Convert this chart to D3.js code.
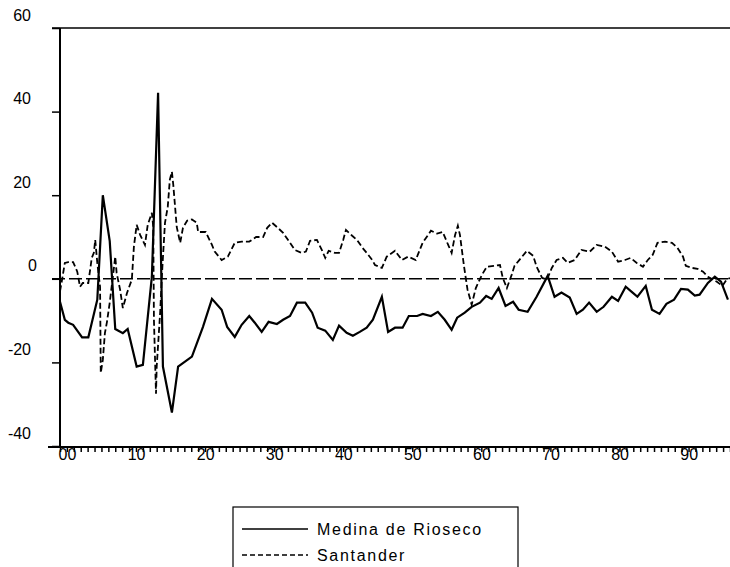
<!DOCTYPE html>
<html>
<head>
<meta charset="utf-8">
<script src="https://cdn.jsdelivr.net/npm/d3@7"></script>
<style>
  body { margin: 0; background: #fff; }
  svg { display: block; font-family: "Liberation Sans", Arial, sans-serif; }
</style>
</head>
<body>
<svg id="chart" width="730" height="567"></svg>
<script>
// years counted from 1700 (00 .. 96), values in %
var medina = [
  [0, -5.5], [0.7, -9.8], [1.2, -10.5], [1.9, -11], [3.2, -14], [4.1, -14], [5.4, -5], [6.2, 20],
  [7.2, 9], [8.0, -12], [9.1, -13], [9.8, -12], [11.1, -21], [12.0, -20.6], [13.3, 0.5], [14.2, 44.5],
  [14.9, -21], [16.2, -32], [17.1, -21], [19.1, -18.6], [20.7, -11.5], [22.0, -4.8], [23.4, -7.4],
  [24.2, -11.5], [25.3, -13.9], [26.3, -11], [27.4, -8.9], [28.2, -10.5], [29.2, -12.7], [30.2, -10.3],
  [31.4, -10.8], [32.3, -9.8], [33.3, -8.9], [34.3, -5.7], [35.5, -5.7], [36.5, -8.1], [37.3, -11.7],
  [38.4, -12.4], [39.5, -14.6], [40.4, -11.2], [41.5, -12.9], [42.4, -13.6], [43.4, -12.7], [44.4, -11.7],
  [45.3, -9.8], [46.6, -4.3], [47.5, -12.7], [48.5, -11.7], [49.6, -11.7], [50.5, -8.9], [51.7, -8.9],
  [52.5, -8.4], [53.7, -8.9], [54.7, -7.9], [55.7, -9.8], [56.7, -12.2], [57.5, -9.3], [58.6, -8.1],
  [59.6, -6.7], [60.8, -5.7], [61.7, -4.1], [62.5, -4.8], [63.5, -2.2], [64.5, -6.5], [65.6, -5.5],
  [66.4, -7.4], [67.7, -7.9], [69.0, -4.3], [70.6, 0.7], [71.6, -4.3], [72.6, -3.3], [73.8, -4.5],
  [74.8, -8.4], [75.7, -7.4], [76.6, -5.7], [77.7, -7.9], [78.7, -6.7], [79.9, -4.3], [80.8, -5.3],
  [81.9, -1.9], [82.9, -3.3], [83.6, -4.3], [84.8, -1.7], [85.7, -7.4], [86.8, -8.4], [87.8, -6],
  [88.9, -5], [89.9, -2.4], [90.9, -2.6], [91.9, -4], [92.6, -3.8], [93.8, -1], [94.8, 0.5],
  [95.7, -0.7], [96.7, -5]
];

var santander = [
  [0, -3], [0.3, -0.2], [0.7, 3.8], [1.2, 4], [1.9, 4], [2.5, 1.7], [2.9, -1.9], [3.3, -1], [4.1, -1],
  [4.6, 5], [4.9, 6.2], [5.1, 9.3], [5.4, 3.8], [5.8, -1.9], [5.9, -22.5], [6.2, -19.4], [6.5, -13],
  [6.8, -10.3], [7.2, -5.7], [8.0, 5.3], [8.2, 1.4], [8.7, -2.6], [9.1, -7], [9.7, -3.4], [10.4, -0.2],
  [10.7, 7.7], [11.1, 12.9], [11.6, 10.5], [12.3, 8.1], [12.7, 12.9], [13.3, 15.8], [13.5, 12.4],
  [13.6, -9.8], [13.9, -27.5], [14.0, -21], [14.5, -8.1], [14.8, 2.2], [15.2, 13.4], [15.6, 17.2],
  [15.9, 23.7], [16.2, 25.6], [16.4, 22.5], [16.9, 12.4], [17.4, 8.6], [17.8, 12.2], [18.4, 13.9],
  [19.1, 14.2], [19.8, 13.4], [20.0, 11.2], [21.1, 11.2], [22.0, 8.1], [22.4, 6.5], [23.4, 4.5],
  [24.3, 5.3], [25.3, 8.6], [26.3, 8.9], [27.4, 8.9], [28.4, 10], [29.4, 10], [30.0, 12.2], [30.7, 13.4],
  [31.4, 12.4], [32.3, 11], [33.3, 8.6], [34.0, 6.9], [35.0, 6.2], [35.6, 6.5], [36.2, 9.1], [37.2, 9.3],
  [37.9, 6.9], [38.4, 5], [38.9, 6.7], [39.8, 6.2], [40.4, 6.2], [41.0, 9.3], [41.4, 11.7], [42.3, 10.3],
  [43.0, 9.3], [43.8, 7.4], [44.4, 6.2], [45.2, 4.5], [45.6, 3.3], [46.6, 2.6], [47.3, 5.3], [48.5, 6.7],
  [49.5, 4.5], [50.4, 5.3], [51.5, 4.5], [52.5, 8.6], [53.7, 11.5], [54.6, 10.8], [55.4, 11.2],
  [56.2, 8.1], [56.7, 6.2], [57.2, 10.5], [57.6, 12.7], [57.9, 10.5], [58.5, 2.9], [59.0, -2.6],
  [59.6, -6.2], [60.2, -2.2], [61.1, 1], [61.8, 2.9], [62.8, 3.1], [63.7, 3.3], [64.1, 0.2], [64.7, -2.2],
  [65.4, 1], [65.8, 3.1], [66.9, 5.3], [67.6, 6.7], [68.5, 5.5], [69.0, 2.9], [69.8, 0.2], [70.5, -0.2],
  [71.2, 2.6], [71.9, 4.5], [72.8, 5], [73.5, 3.8], [74.5, 4.5], [75.5, 6.9], [76.7, 6.5], [77.7, 8.1],
  [78.9, 7.7], [79.9, 6.5], [80.8, 4.1], [81.8, 4.5], [82.6, 5], [83.5, 3.8], [84.4, 2.9], [85.1, 4.5],
  [85.8, 5.7], [86.5, 8.6], [87.6, 8.9], [88.6, 8.6], [89.4, 7.4], [90.2, 5.3], [90.6, 3.1], [91.5, 2.6],
  [92.3, 2.4], [93.1, 1.7], [93.8, 0.5], [95.1, -0.7], [95.9, -1.7], [96.5, -0.2], [97.0, 0.2]
];

var yTicks = [60, 40, 20, 0, -20, -40];
var xLabels = ["00", "10", "20", "30", "40", "50", "60", "70", "80", "90"];
var seriesNames = ["Medina de Rioseco", "Santander"];

var chart = d3.select("#chart");

var x = d3.scaleLinear().domain([0, 97]).range([60, 730]);
var y = d3.scaleLinear().domain([-40, 60]).range([446, 28]);

// frame top line
chart.append("line")
    .attr("x1", 52).attr("x2", 730)
    .attr("y1", y(60)).attr("y2", y(60))
    .attr("stroke", "#000").attr("stroke-width", 1.5);

// zero reference line, long dashes
chart.append("line")
    .attr("x1", 52).attr("x2", 730)
    .attr("y1", y(0)).attr("y2", y(0))
    .attr("stroke", "#000").attr("stroke-width", 1.6)
    .attr("stroke-dasharray", "13,4");

// y axis
var yAxis = chart.append("g")
    .attr("transform", "translate(60,0)")
    .call(d3.axisLeft(y).tickValues(yTicks).tickSize(8).tickFormat(function(d) { return d; }));
yAxis.select(".domain").remove();
yAxis.append("line")
    .attr("x1", 0).attr("x2", 0)
    .attr("y1", 28).attr("y2", 447)
    .attr("stroke", "#000").attr("stroke-width", 2);
yAxis.selectAll(".tick line").attr("stroke-width", 1.5);
yAxis.selectAll(".tick text")
    .attr("x", function(d) { return d === 0 ? -23 : -29; })
    .attr("dy", "-8px")
    .attr("font-size", "16px").attr("fill", "#000")
    .attr("font-family", "Liberation Sans, Arial, sans-serif");

// x axis: yearly ticks, decade labels
var xAxis = chart.append("g")
    .attr("transform", "translate(0,447)")
    .call(d3.axisBottom(x).tickValues(d3.range(0, 98)).tickSize(5)
        .tickFormat(function(d) { return d % 10 === 0 ? xLabels[d / 10] : ""; }));
xAxis.select(".domain").remove();
xAxis.append("line")
    .attr("x1", 48).attr("x2", 730)
    .attr("stroke", "#000").attr("stroke-width", 2);
xAxis.selectAll(".tick line").attr("stroke-width", 1.5);
xAxis.selectAll(".tick text")
    .attr("x", 7).attr("y", 13).attr("dy", 0)
    .attr("font-size", "16px").attr("fill", "#000")
    .attr("font-family", "Liberation Sans, Arial, sans-serif");
xAxis.selectAll(".tick text").lower();

var line = d3.line()
    .x(function(d) { return x(d[0]); })
    .y(function(d) { return y(d[1]); });

chart.append("path")
    .datum(santander)
    .attr("d", line)
    .attr("fill", "none").attr("stroke", "#000")
    .attr("stroke-width", 1.8)
    .attr("stroke-dasharray", "6,3");

chart.append("path")
    .datum(medina)
    .attr("d", line)
    .attr("fill", "none").attr("stroke", "#000")
    .attr("stroke-width", 2.2)
    .attr("stroke-linejoin", "miter");

// legend
var legend = chart.append("g");
legend.append("rect")
    .attr("x", 233).attr("y", 507)
    .attr("width", 285).attr("height", 80)
    .attr("fill", "none").attr("stroke", "#000").attr("stroke-width", 1.2);

seriesNames.forEach(function(name, i) {
    var ly = 529 + i * 26;
    legend.append("line")
        .attr("x1", 242).attr("x2", 308)
        .attr("y1", ly).attr("y2", ly)
        .attr("stroke", "#000").attr("stroke-width", 1.3)
        .attr("stroke-dasharray", i === 0 ? null : "5,3");
    legend.append("text")
        .attr("x", 317).attr("y", ly + 6)
        .attr("font-size", "16px")
        .attr("letter-spacing", "1.7px")
        .text(name);
});
</script>
</body>
</html>
